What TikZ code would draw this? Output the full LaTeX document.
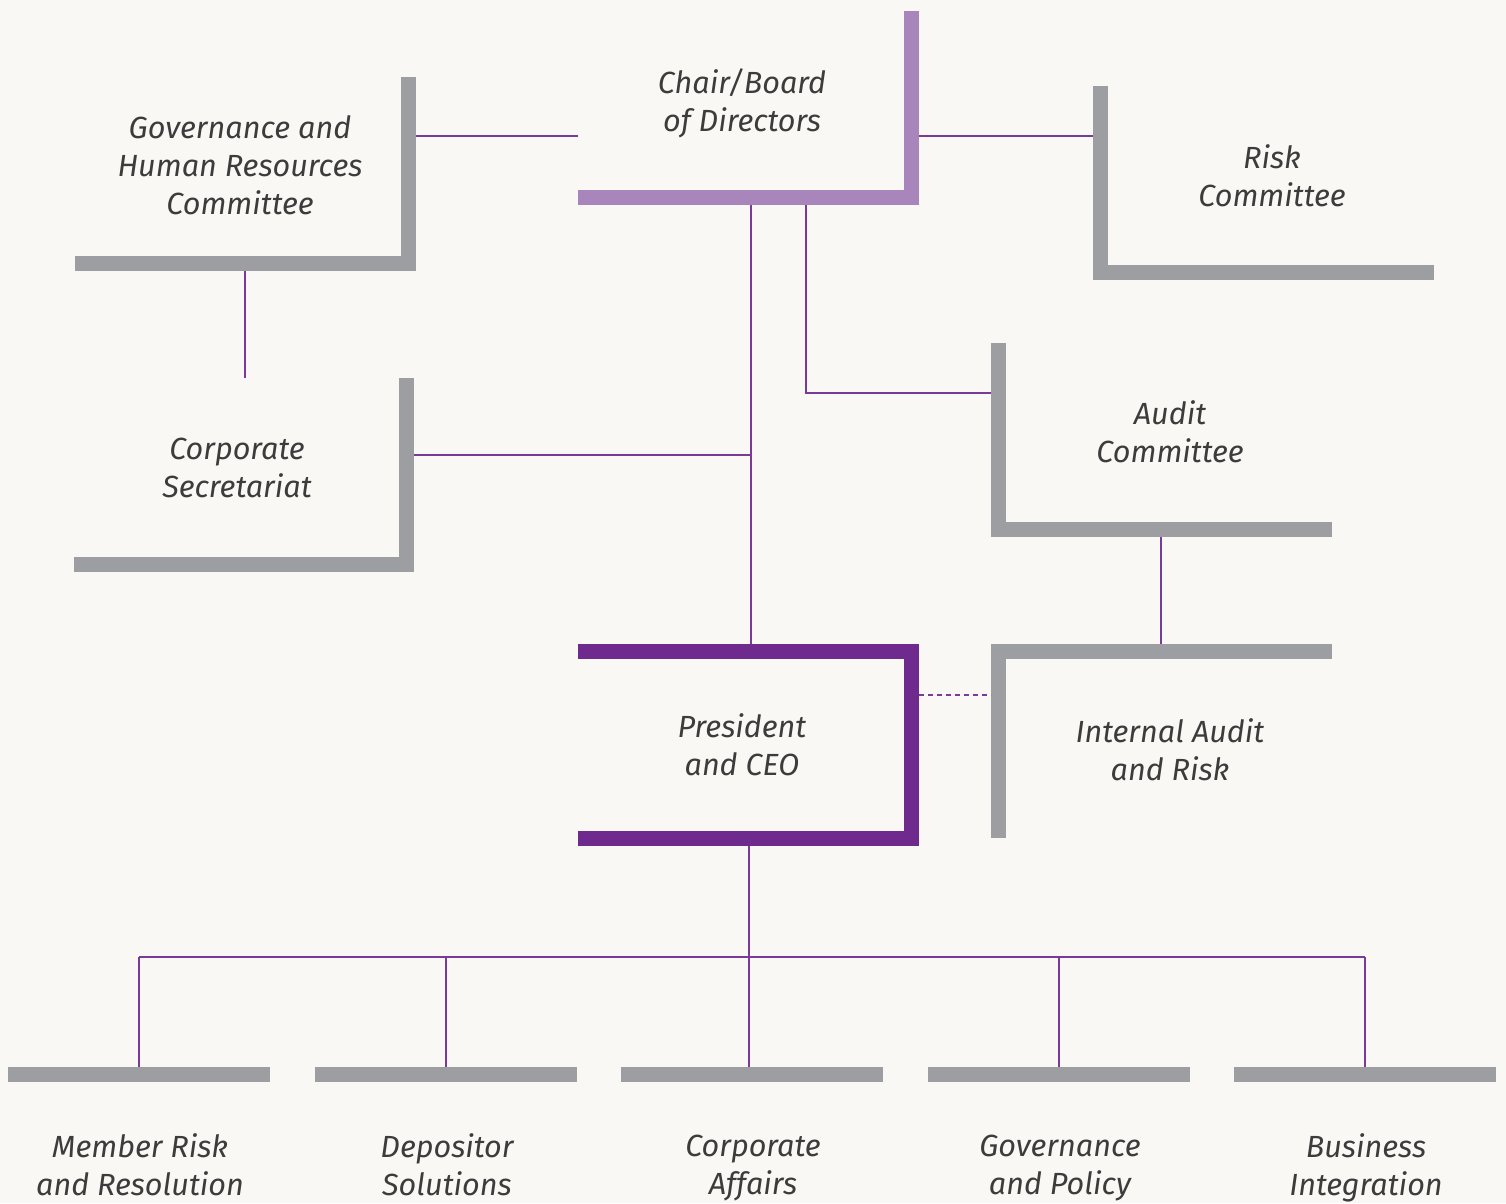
\documentclass[tikz,border=0pt]{standalone}
\usepackage{fontspec}
\newfontfamily\lblfont{Fira Sans Italic}
\definecolor{bg}{HTML}{FAF8F4}
\definecolor{barg}{HTML}{9D9EA1}
\definecolor{lpur}{HTML}{A886BC}
\definecolor{dpur}{HTML}{6E2A8C}
\definecolor{conn}{HTML}{7B3A9A}
\definecolor{txt}{HTML}{3C3C3C}
\begin{document}
\begin{tikzpicture}[x=1pt,y=-1pt,
  bar/.style={fill=#1, draw=none, inner sep=0pt, outer sep=0pt, anchor=north west},
  hbar/.style={bar=#1, minimum height=15pt},
  vbar/.style={bar=#1, minimum width=15pt},
  lbl/.style={font=\lblfont\fontsize{30.6}{38}\selectfont, text=txt, align=center, inner sep=0pt,
    execute at begin node=\strut, execute at end node=\strut},
  link/.style={draw=conn, line width=1.2pt},
  dlink/.style={link, dash pattern=on 5pt off 4pt}]
\fill[bg] (0,0) rectangle (1506,1203);
\useasboundingbox (0,0) rectangle (1506,1203);

% Chair / Board
\node[vbar=lpur, minimum height=194pt] (chairV) at (904,11) {};
\node[hbar=lpur, minimum width=341pt] (chairH) at (578,190) {};
\node[lbl] (chairT) at (742,105.5) {Chair/Board\\of Directors};

% Governance and HR Committee
\node[vbar=barg, minimum height=194pt] (ghrV) at (401,77) {};
\node[hbar=barg, minimum width=341pt] (ghrH) at (75,256) {};
\node[lbl] (ghrT) at (240,171) {Governance and\\Human Resources\\Committee};

% Risk Committee
\node[vbar=barg, minimum height=194pt] (riskV) at (1093,86) {};
\node[hbar=barg, minimum width=341pt] (riskH) at (1093,265) {};
\node[lbl] (riskT) at (1272,181) {Risk\\Committee};

% Corporate Secretariat
\node[vbar=barg, minimum height=194pt] (csV) at (399,378) {};
\node[hbar=barg, minimum width=340pt] (csH) at (74,557) {};
\node[lbl] (csT) at (237,473) {Corporate\\Secretariat};

% Audit Committee
\node[vbar=barg, minimum height=194pt] (acV) at (991,343) {};
\node[hbar=barg, minimum width=341pt] (acH) at (991,522) {};
\node[lbl] (acT) at (1170,437) {Audit\\Committee};

% Internal Audit and Risk
\node[hbar=barg, minimum width=341pt] (iaH) at (991,644) {};
\node[vbar=barg, minimum height=194pt] (iaV) at (991,644) {};
\node[lbl] (iaT) at (1170,755) {Internal Audit\\and Risk};

% President and CEO
\node[hbar=dpur, minimum width=341pt] (ceoTop) at (578,644) {};
\node[vbar=dpur, minimum height=202pt] (ceoV) at (904,644) {};
\node[hbar=dpur, minimum width=341pt] (ceoBot) at (578,831) {};
\node[lbl] (ceoT) at (742,750) {President\\and CEO};

% Bottom units
\node[hbar=barg, minimum width=262pt] (u1) at (8,1067) {};
\node[hbar=barg, minimum width=262pt] (u2) at (315,1067) {};
\node[hbar=barg, minimum width=262pt] (u3) at (621,1067) {};
\node[hbar=barg, minimum width=262pt] (u4) at (928,1067) {};
\node[hbar=barg, minimum width=262pt] (u5) at (1234,1067) {};
\node[lbl] (u1T) at (140,1170) {Member Risk\\and Resolution};
\node[lbl] (u2T) at (447,1170) {Depositor\\Solutions};
\node[lbl] (u3T) at (753,1170) {Corporate\\Affairs};
\node[lbl] (u4T) at (1060,1170) {Governance\\and Policy};
\node[lbl] (u5T) at (1366,1170) {Business\\Integration};

% connector coordinates
\coordinate (a1) at (416,136);
\coordinate (a2) at (578,136);
\coordinate (b1) at (919,136);
\coordinate (b2) at (1093,136);
\coordinate (c1) at (245,271);
\coordinate (c2) at (245,378);
\coordinate (d1) at (751,205);
\coordinate (d2) at (751,644);
\coordinate (e1) at (806,205);
\coordinate (e2) at (806,393);
\coordinate (e3) at (991,393);
\coordinate (f1) at (414,455);
\coordinate (f2) at (751,455);
\coordinate (g1) at (1161,537);
\coordinate (g2) at (1161,644);
\coordinate (h1) at (919,695);
\coordinate (h2) at (991,695);
\coordinate (k1) at (749,846);
\coordinate (k2) at (749,957);
\coordinate (m1) at (139,957);
\coordinate (m2) at (446,957);
\coordinate (m3) at (749,957);
\coordinate (m4) at (1059,957);
\coordinate (m5) at (1365,957);

\draw[link] (a1) -- (a2);
\draw[link] (b1) -- (b2);
\draw[link] (c1) -- (c2);
\draw[link] (d1) -- (d2);
\draw[link] (e1) -- (e2) -- (e3);
\draw[link] (f1) -- (f2);
\draw[link] (g1) -- (g2);
\draw[dlink] (h1) -- (h2);
\draw[link] (k1) -- (k2);
\draw[link] (m1) -- (m5);
\draw[link] (m1) -- (m1 |- u1.north);
\draw[link] (m2) -- (m2 |- u2.north);
\draw[link] (m3) -- (m3 |- u3.north);
\draw[link] (m4) -- (m4 |- u4.north);
\draw[link] (m5) -- (m5 |- u5.north);
\end{tikzpicture}
\end{document}
